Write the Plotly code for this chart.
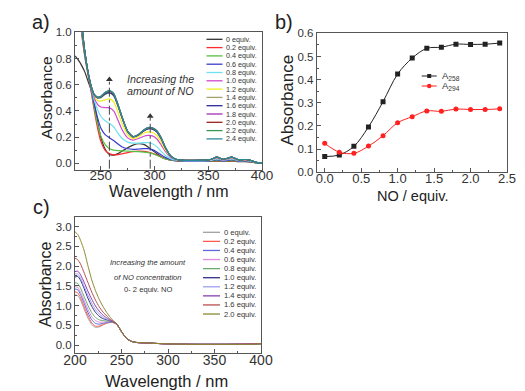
import plotly.graph_objects as go

W, H = 525, 391
FONT = "Liberation Sans, Arial, sans-serif"
AX = "#555555"

# ---------------- panel a data ----------------
wl_a = [226, 229, 232, 235, 238, 241, 244, 247, 250, 254, 258, 262, 266, 270, 275, 280, 285, 290,
        294, 298, 302, 306, 310, 315, 320, 325, 335, 345, 352, 358, 364, 372, 378, 384, 388, 394, 400]
names_a = ["0 equiv.", "0.2 equiv.", "0.4 equiv.", "0.6 equiv.", "0.8 equiv.", "1.0 equiv.", "1.2 equiv.",
           "1.4 equiv.", "1.6 equiv.", "1.8 equiv.", "2.0 equiv.", "2.2 equiv.", "2.4 equiv."]
colors_a = ["#333333", "#ff2a2a", "#55c040", "#3a3ad0", "#70e0f0", "#d048d0", "#f0f020",
            "#a0a070", "#2a2a9a", "#a030b0", "#a02020", "#3a9a55", "#2a8a9a"]
a_00 = [0.82, 0.79, 0.75, 0.70, 0.63, 0.56, 0.45, 0.32, 0.20, 0.11, 0.068, 0.064, 0.075, 0.095, 0.12, 0.14, 0.15, 0.145,
        0.125, 0.10, 0.075, 0.052, 0.036, 0.025, 0.020, 0.018, 0.016, 0.015, 0.015, 0.017, 0.015, 0.017, 0.014, 0.014, 0.012, 0.005, 0.0]
a_02 = [1.8, 1.3, 1.0, 0.82, 0.68, 0.55, 0.40, 0.27, 0.17, 0.10, 0.075, 0.066, 0.068, 0.074, 0.083, 0.090, 0.094, 0.092,
        0.087, 0.078, 0.065, 0.050, 0.036, 0.026, 0.020, 0.018, 0.016, 0.015, 0.016, 0.020, 0.016, 0.020, 0.015, 0.016, 0.014, 0.006, 0.0]
a_04 = [1.85, 1.35, 1.02, 0.83, 0.69, 0.56, 0.42, 0.30, 0.21, 0.145, 0.112, 0.102, 0.098, 0.096, 0.094, 0.092, 0.090, 0.087,
        0.082, 0.074, 0.062, 0.048, 0.035, 0.026, 0.021, 0.019, 0.017, 0.016, 0.017, 0.022, 0.017, 0.022, 0.016, 0.017, 0.015, 0.006, 0.0]
a_06 = [1.9, 1.4, 1.04, 0.84, 0.70, 0.57, 0.45, 0.35, 0.27, 0.22, 0.196, 0.175, 0.148, 0.125, 0.112, 0.108, 0.110, 0.113,
        0.113, 0.105, 0.088, 0.066, 0.046, 0.030, 0.023, 0.020, 0.018, 0.018, 0.020, 0.028, 0.020, 0.028, 0.018, 0.020, 0.017, 0.007, 0.0]
a_08 = [1.95, 1.42, 1.06, 0.85, 0.70, 0.58, 0.48, 0.41, 0.36, 0.325, 0.305, 0.28, 0.23, 0.19, 0.163, 0.155, 0.155, 0.158,
        0.158, 0.150, 0.128, 0.094, 0.062, 0.037, 0.025, 0.022, 0.020, 0.020, 0.023, 0.034, 0.023, 0.034, 0.021, 0.023, 0.020, 0.008, 0.0]
a_10 = [1.98, 1.45, 1.07, 0.855, 0.70, 0.585, 0.50, 0.45, 0.43, 0.425, 0.424, 0.40, 0.33, 0.255, 0.195, 0.178, 0.190, 0.207,
        0.214, 0.210, 0.188, 0.143, 0.092, 0.048, 0.030, 0.024, 0.022, 0.022, 0.026, 0.040, 0.026, 0.040, 0.024, 0.026, 0.023, 0.009, 0.0]
a_12 = [2.0, 1.47, 1.08, 0.86, 0.70, 0.59, 0.515, 0.48, 0.475, 0.485, 0.493, 0.47, 0.39, 0.30, 0.22, 0.19, 0.205, 0.230,
        0.240, 0.236, 0.215, 0.165, 0.105, 0.052, 0.031, 0.025, 0.023, 0.023, 0.028, 0.044, 0.029, 0.044, 0.026, 0.028, 0.025, 0.009, 0.0]
a_14 = [2.0, 1.5, 1.1, 0.86, 0.70, 0.59, 0.52, 0.50, 0.50, 0.525, 0.535, 0.515, 0.435, 0.34, 0.24, 0.20, 0.215, 0.248,
        0.265, 0.263, 0.242, 0.19, 0.12, 0.056, 0.032, 0.026, 0.024, 0.024, 0.030, 0.047, 0.031, 0.047, 0.027, 0.030, 0.027, 0.010, 0.0]
a_16 = [2.0, 1.5, 1.1, 0.86, 0.70, 0.59, 0.52, 0.50, 0.505, 0.53, 0.540, 0.52, 0.44, 0.345, 0.242, 0.202, 0.217, 0.248,
        0.263, 0.262, 0.242, 0.19, 0.12, 0.056, 0.032, 0.026, 0.024, 0.025, 0.030, 0.048, 0.031, 0.048, 0.028, 0.030, 0.027, 0.010, 0.0]
a_18 = [2.0, 1.5, 1.1, 0.86, 0.70, 0.59, 0.525, 0.505, 0.51, 0.54, 0.553, 0.53, 0.447, 0.348, 0.244, 0.204, 0.22, 0.255,
        0.273, 0.271, 0.249, 0.198, 0.124, 0.058, 0.032, 0.026, 0.024, 0.025, 0.030, 0.048, 0.032, 0.048, 0.028, 0.030, 0.028, 0.010, 0.0]
a_20 = [2.0, 1.5, 1.1, 0.86, 0.70, 0.59, 0.525, 0.505, 0.51, 0.54, 0.552, 0.53, 0.446, 0.348, 0.244, 0.204, 0.219, 0.254,
        0.271, 0.269, 0.248, 0.197, 0.124, 0.058, 0.032, 0.026, 0.024, 0.025, 0.030, 0.048, 0.032, 0.048, 0.028, 0.030, 0.028, 0.010, 0.0]
a_22 = [2.0, 1.5, 1.1, 0.86, 0.70, 0.59, 0.525, 0.505, 0.51, 0.54, 0.553, 0.53, 0.446, 0.348, 0.244, 0.204, 0.219, 0.254,
        0.271, 0.269, 0.248, 0.197, 0.124, 0.058, 0.032, 0.026, 0.024, 0.025, 0.030, 0.048, 0.032, 0.048, 0.028, 0.030, 0.028, 0.010, 0.0]
a_24 = [2.0, 1.5, 1.1, 0.86, 0.70, 0.59, 0.525, 0.505, 0.51, 0.54, 0.558, 0.535, 0.45, 0.35, 0.245, 0.205, 0.22, 0.255,
        0.274, 0.272, 0.25, 0.20, 0.125, 0.058, 0.032, 0.026, 0.024, 0.025, 0.030, 0.048, 0.032, 0.048, 0.028, 0.030, 0.028, 0.010, 0.0]
series_a = [a_00, a_02, a_04, a_06, a_08, a_10, a_12, a_14, a_16, a_18, a_20, a_22, a_24]

arrow_wl = [258, 296]
arrow_bottom = [-0.04, -0.04]
arrow_top = [0.64, 0.36]

# ---------------- panel b data ----------------
no_equiv = [0.0, 0.2, 0.4, 0.6, 0.8, 1.0, 1.2, 1.4, 1.6, 1.8, 2.0, 2.2, 2.4]
a258 = [0.068, 0.075, 0.112, 0.196, 0.305, 0.424, 0.493, 0.535, 0.540, 0.553, 0.552, 0.553, 0.558]
a294 = [0.125, 0.087, 0.082, 0.113, 0.158, 0.214, 0.240, 0.265, 0.263, 0.273, 0.271, 0.271, 0.274]
names_b = ["A<sub>258</sub>", "A<sub>294</sub>"]
colors_b = ["#222222", "#ff2020"]

# ---------------- panel c data ----------------
wl_c = [200, 203, 206, 210, 214, 218, 222, 226, 230, 234, 238, 241, 245, 250, 255, 260, 265, 270, 280, 300, 330, 360, 390, 400]
names_c = ["0 equiv.", "0.2 equiv.", "0.4 equiv.", "0.6 equiv.", "0.8 equiv.", "1.0 equiv.", "1.2 equiv.",
           "1.4 equiv.", "1.6 equiv.", "2.0 equiv."]
colors_c = ["#a0a0a0", "#ff5a4a", "#5a6ae0", "#e088e0", "#6aaa6a", "#303088", "#a0a0f0", "#8a40b0", "#b85050", "#8a8a30"]
c_00 = [1.27, 1.25, 1.14, 0.90, 0.68, 0.52, 0.45, 0.46, 0.51, 0.55, 0.57, 0.57, 0.52, 0.34, 0.18, 0.10, 0.07, 0.06, 0.05, 0.03, 0.02, 0.02, 0.02, 0.03]
c_02 = [1.35, 1.32, 1.20, 0.96, 0.74, 0.56, 0.48, 0.48, 0.52, 0.56, 0.58, 0.57, 0.52, 0.34, 0.18, 0.10, 0.07, 0.06, 0.05, 0.03, 0.02, 0.02, 0.02, 0.03]
c_04 = [1.42, 1.40, 1.28, 1.05, 0.82, 0.64, 0.55, 0.53, 0.55, 0.57, 0.58, 0.58, 0.53, 0.34, 0.18, 0.10, 0.07, 0.06, 0.05, 0.03, 0.02, 0.02, 0.02, 0.03]
c_06 = [1.48, 1.46, 1.34, 1.12, 0.90, 0.72, 0.62, 0.58, 0.58, 0.59, 0.59, 0.58, 0.53, 0.34, 0.18, 0.10, 0.07, 0.06, 0.05, 0.03, 0.02, 0.02, 0.02, 0.03]
c_08 = [1.58, 1.56, 1.44, 1.22, 1.00, 0.82, 0.70, 0.64, 0.62, 0.61, 0.60, 0.59, 0.53, 0.34, 0.18, 0.10, 0.07, 0.06, 0.05, 0.03, 0.02, 0.02, 0.02, 0.03]
c_10 = [1.72, 1.74, 1.64, 1.42, 1.18, 0.98, 0.83, 0.73, 0.67, 0.64, 0.61, 0.59, 0.53, 0.34, 0.18, 0.10, 0.07, 0.06, 0.05, 0.03, 0.02, 0.02, 0.03, 0.04]
c_12 = [1.80, 1.80, 1.70, 1.48, 1.26, 1.06, 0.90, 0.79, 0.71, 0.66, 0.62, 0.60, 0.53, 0.34, 0.18, 0.10, 0.07, 0.06, 0.05, 0.03, 0.02, 0.02, 0.03, 0.04]
c_14 = [1.86, 1.87, 1.78, 1.58, 1.36, 1.16, 0.99, 0.86, 0.76, 0.69, 0.63, 0.60, 0.53, 0.34, 0.18, 0.10, 0.07, 0.06, 0.05, 0.03, 0.02, 0.02, 0.03, 0.04]
c_16 = [2.20, 2.16, 2.05, 1.82, 1.58, 1.34, 1.14, 0.97, 0.84, 0.74, 0.65, 0.60, 0.53, 0.34, 0.18, 0.10, 0.07, 0.06, 0.05, 0.03, 0.02, 0.02, 0.03, 0.04]
c_20 = [2.87, 2.80, 2.65, 2.38, 2.00, 1.65, 1.38, 1.16, 0.98, 0.83, 0.70, 0.62, 0.53, 0.34, 0.18, 0.10, 0.07, 0.06, 0.05, 0.03, 0.02, 0.02, 0.02, 0.03]
series_c = [c_00, c_02, c_04, c_06, c_08, c_10, c_12, c_14, c_16, c_20]


def px(x):
    return x / W


def py(y):
    return 1 - y / H


fig = go.Figure()

# panel a spectra
for name, col, ys in zip(names_a, colors_a, series_a):
    fig.add_trace(go.Scatter(x=wl_a, y=ys, mode="lines", name=name, line=dict(color=col, width=1.2, shape="spline", smoothing=0.6),
                             xaxis="x", yaxis="y", showlegend=False))
for xw, yb, yt in zip(arrow_wl, arrow_bottom, arrow_top):
    fig.add_trace(go.Scatter(x=[xw, xw], y=[yb, yt], mode="lines", line=dict(color="#444444", width=1, dash="dashdot"),
                             xaxis="x", yaxis="y", showlegend=False))
fig.add_trace(go.Scatter(x=arrow_wl, y=arrow_top, mode="markers",
                         marker=dict(symbol="triangle-up", size=6, color="#333333"),
                         xaxis="x", yaxis="y", showlegend=False))

# panel b
fig.add_trace(go.Scatter(x=no_equiv, y=a258, mode="lines+markers", name="A258",
                         line=dict(color=colors_b[0], width=1, shape="spline"),
                         marker=dict(symbol="square", size=5, color=colors_b[0]), xaxis="x2", yaxis="y2", showlegend=False))
fig.add_trace(go.Scatter(x=no_equiv, y=a294, mode="lines+markers", name="A294",
                         line=dict(color=colors_b[1], width=1, shape="spline"),
                         marker=dict(symbol="circle", size=5, color=colors_b[1]), xaxis="x2", yaxis="y2", showlegend=False))

# panel c
for name, col, ys in zip(names_c, colors_c, series_c):
    fig.add_trace(go.Scatter(x=wl_c, y=ys, mode="lines", name=name, line=dict(color=col, width=1, shape="spline", smoothing=0.6),
                             xaxis="x3", yaxis="y3", showlegend=False))


def axis(domain, rng, dtick, minor_dtick, fmt, fsize, anchor, standoff):
    return dict(domain=domain, range=rng, dtick=dtick, tickformat=fmt, anchor=anchor, automargin=False,
                showline=True, mirror=True, linecolor=AX, linewidth=1, ticks="inside", ticklen=4, tickcolor=AX,
                showgrid=False, zeroline=False, ticklabelstandoff=standoff,
                tickfont=dict(family=FONT, size=fsize, color="#333333"),
                minor=dict(ticks="inside", ticklen=2, dtick=minor_dtick, tickcolor=AX))


layout = dict(
    template="none",
    width=W, height=H, margin=dict(l=0, r=0, t=0, b=0, pad=0), paper_bgcolor="white", plot_bgcolor="white",
    xaxis=axis([px(75), px(262)], [226, 400], 50, 25, "d", 13.5, "y", -7),
    yaxis=axis([py(170), py(32.3)], [-0.05, 1.0], 0.2, 0.1, ".1f", 11.5, "x", 0),
    xaxis2=axis([px(316.7), px(507)], [-0.11, 2.5], 0.5, 0.25, ".1f", 13, "y2", -6),
    yaxis2=axis([py(172.3), py(33.3)], [0, 0.6], 0.1, 0.05, ".1f", 11.5, "x2", 0),
    xaxis3=axis([px(75), px(261)], [200, 400], 50, 25, "d", 14, "y3", -6),
    yaxis3=axis([py(353), py(216.7)], [-0.2, 3.25], 0.5, 0.25, ".1f", 11.5, "x3", 0),
    showlegend=False,
)
fig.update_layout(**layout)

ann = []
shapes = []


def txt(x, y, s, size, xanchor="center", yanchor="middle", angle=0, italic=False, color="#222222"):
    ann.append(dict(x=px(x), y=py(y), xref="paper", yref="paper", text=s, showarrow=False, textangle=angle,
                    xanchor=xanchor, yanchor=yanchor,
                    font=dict(family=FONT, size=size, color=color, style="italic" if italic else "normal")))


# panel labels
txt(41, 22, "a)", 20)
txt(284, 22, "b)", 20)
txt(41, 207, "c)", 20)

# axis titles
txt(46.5, 97.5, "Absorbance", 15.5, angle=-90)
txt(168.8, 191, "Wavelength / nm", 16)
txt(287.5, 100, "Absorbance", 17, angle=-90)
txt(412, 196, "NO / equiv.", 14.5)
txt(45, 285, "Absorbance", 16, angle=-90)
txt(166.3, 381, "Wavelength / nm", 16.5)

# panel a inner text
ann.append(dict(x=306, y=0.643, xref="x", yref="y", text="Increasing the", showarrow=False,
                font=dict(family=FONT, size=10.7, color="#333333", style="italic")))
ann.append(dict(x=306, y=0.554, xref="x", yref="y", text="amount of NO", showarrow=False,
                font=dict(family=FONT, size=10.7, color="#333333", style="italic")))

# panel c inner text
ann.append(dict(x=278, y=2.08, xref="x3", yref="y3", text="Increasing the amount", showarrow=False,
                font=dict(family=FONT, size=7.6, color="#333333", style="italic")))
ann.append(dict(x=278, y=1.71, xref="x3", yref="y3", text="of NO concentration", showarrow=False,
                font=dict(family=FONT, size=7.6, color="#333333", style="italic")))
ann.append(dict(x=278, y=1.40, xref="x3", yref="y3", text="0- 2 equiv. NO", showarrow=False,
                font=dict(family=FONT, size=7.6, color="#333333")))

# legend a (manual, compact)
for i, (name, col) in enumerate(zip(names_a, colors_a)):
    yy = 39.3 + 8.3 * i
    shapes.append(dict(type="line", xref="paper", yref="paper", x0=px(206.5), x1=px(222.5), y0=py(yy), y1=py(yy),
                       line=dict(color=col, width=1.3)))
    txt(224, yy, name, 7.2, xanchor="left", color="#333333")

# legend c
for i, (name, col) in enumerate(zip(names_c, colors_c)):
    yy = 232.3 + 9.08 * i
    shapes.append(dict(type="line", xref="paper", yref="paper", x0=px(203), x1=px(220), y0=py(yy), y1=py(yy),
                       line=dict(color=col, width=1.3)))
    txt(221.5, yy, name, 7.6, xanchor="left", color="#333333")

# legend b
for i, (name, col) in enumerate(zip(names_b, colors_b)):
    yy = 76 + 10 * i
    shapes.append(dict(type="line", xref="paper", yref="paper", x0=px(421.7), x1=px(436.7), y0=py(yy), y1=py(yy),
                       line=dict(color=col, width=1)))
    if i == 0:
        shapes.append(dict(type="rect", xref="paper", yref="paper", x0=px(427.2), x1=px(431.2), y0=py(yy + 2), y1=py(yy - 2),
                           fillcolor=col, line=dict(width=0)))
    else:
        shapes.append(dict(type="circle", xref="paper", yref="paper", x0=px(427), x1=px(431.4), y0=py(yy + 2.2), y1=py(yy - 2.2),
                           fillcolor=col, line=dict(width=0)))
    txt(439.5, yy, name, 9.5, xanchor="left", color="#333333")

fig.update_layout(annotations=ann, shapes=shapes)
fig.write_html("out.html", config={"displayModeBar": False},
               post_script="document.body.style.margin='0';document.body.style.overflow='hidden';")
